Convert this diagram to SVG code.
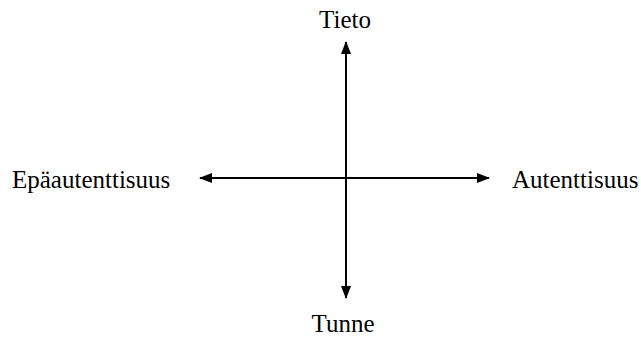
<svg xmlns="http://www.w3.org/2000/svg" width="641" height="338" viewBox="0 0 641 338">
<style>
.lb{font-family:'Liberation Serif','Times New Roman',Times,serif;font-size:25px;fill:#000}
.ax{stroke:#000;stroke-width:2;fill:none}
</style>
<defs>
<marker id="ah" markerWidth="13" markerHeight="10" refX="12" refY="5" orient="auto" markerUnits="userSpaceOnUse">
<path d="M0,0 L13,5 L0,10 Z" fill="#000"/>
</marker>
</defs>
<rect width="641" height="338" fill="#fff"/>
<g id="connectors">
<line class="ax" x1="346" y1="178" x2="346" y2="42" marker-end="url(#ah)"/>
<line class="ax" x1="346" y1="178" x2="346" y2="298" marker-end="url(#ah)"/>
<line class="ax" x1="346" y1="178" x2="200" y2="178" marker-end="url(#ah)"/>
<line class="ax" x1="346" y1="178" x2="489" y2="178" marker-end="url(#ah)"/>
</g>
<g id="tieto"><text class="lb" font-family="Liberation Serif" x="345" y="28" text-anchor="middle">Tieto</text></g>
<g id="tunne"><text class="lb" font-family="Liberation Serif" x="343" y="332" text-anchor="middle">Tunne</text></g>
<g id="epaautenttisuus"><text class="lb" font-family="Liberation Serif" x="12" y="188">Epäautenttisuus</text></g>
<g id="autenttisuus"><text class="lb" font-family="Liberation Serif" x="512" y="188">Autenttisuus</text></g>
</svg>
